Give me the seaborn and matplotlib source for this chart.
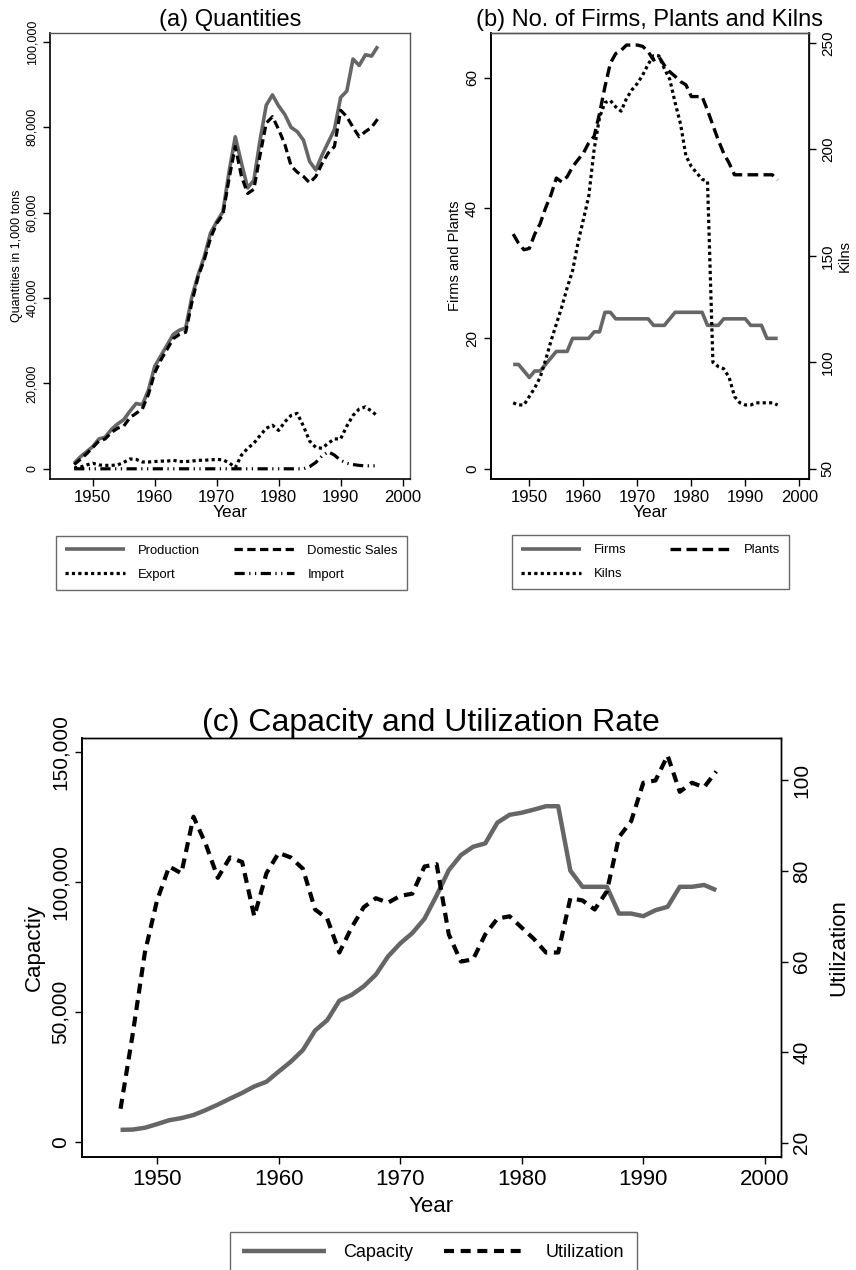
import matplotlib
matplotlib.use("Agg")
import matplotlib.pyplot as plt
from matplotlib.ticker import FuncFormatter
import seaborn as sns

# ---- data ----
years = list(range(1947, 1997))

production = [1300, 2800, 4000, 5200, 7000, 7400, 9200, 10500, 11500, 13500,
              15300, 15000, 18500, 24000, 26500, 29000, 31500, 32500, 33000, 40300,
              45400, 49700, 55200, 57900, 60200, 69600, 77800, 71600, 65800, 67600,
              77000, 85200, 87600, 85000, 83000, 80000, 79000, 77000, 72000, 70000,
              73500, 76500, 79500, 87000, 88500, 96000, 94500, 97000, 96700, 99000]
domestic = [1000, 2200, 3500, 5000, 6500, 7000, 8500, 9500, 10000, 12000,
            13000, 14000, 17500, 22500, 25500, 28000, 30500, 31500, 32000, 39000,
            45000, 49000, 54000, 57500, 59500, 68000, 75500, 68500, 64500, 65500,
            73500, 81000, 82500, 79500, 76000, 71000, 69500, 68500, 67000, 68500,
            71500, 74000, 75500, 84000, 82500, 80000, 77800, 79000, 80000, 82000]
export = [200, 400, 900, 1300, 900, 800, 800, 900, 1500, 2300,
          2200, 1600, 1600, 1700, 1800, 1800, 2000, 1700, 1700, 1800,
          2000, 2000, 2100, 2200, 2100, 1400, 300, 3200, 4800, 6000,
          7800, 9500, 10200, 9000, 11000, 12500, 13000, 10000, 6500, 5000,
          4800, 6000, 7000, 7000, 10000, 12500, 14000, 14500, 13500, 12300]
imports = [0, 0, 0, 0, 0, 0, 0, 0, 0, 0,
           0, 0, 0, 0, 0, 0, 0, 0, 0, 0,
           0, 0, 0, 0, 0, 0, 0, 0, 0, 0,
           0, 0, 0, 0, 0, 0, 0, 0, 500, 1500,
           3000, 4000, 3200, 2000, 1300, 1000, 800, 700, 700, 700]

firms = [16, 16, 15, 14, 15, 15, 16, 17, 18, 18,
         18, 20, 20, 20, 20, 21, 21, 24, 24, 23,
         23, 23, 23, 23, 23, 23, 22, 22, 22, 23,
         24, 24, 24, 24, 24, 24, 22, 22, 22, 23,
         23, 23, 23, 23, 22, 22, 22, 20, 20, 20]
plants = [36, 34.6, 33.6, 33.8, 36, 37.6, 40, 42, 44.6, 44,
          44.8, 46.3, 47.4, 48.4, 50, 51, 54.5, 58.6, 62.2, 63.7,
          64.2, 65, 65, 65, 64.8, 64, 62.7, 63.2, 61.9, 60.9,
          60.2, 59.4, 58.9, 57.1, 57.1, 57.1, 55, 52.7, 50.4, 48.4,
          46.9, 45.1, 45.1, 45.1, 45.1, 45.1, 45.1, 45.1, 45.1, 44.3]
kilns = [81, 80, 80, 84, 88, 93, 101, 110, 118, 126,
         135, 143, 156, 167, 178, 200, 215, 222, 223, 220,
         218, 224, 228, 231, 235, 240, 244, 244, 238, 233,
         222, 212, 197, 192, 189, 186, 185, 100, 98, 97,
         93, 84, 81, 80, 80, 81, 81, 81, 81, 80]

capacity = [4800, 4900, 5600, 7000, 8500, 9300, 10500, 12400, 14500, 16800,
            19000, 21500, 23300, 27200, 31000, 35500, 43000, 47000, 54500, 56700,
            60000, 64500, 71500, 76500, 80500, 86000, 95000, 104700, 110500, 113700,
            115000, 123000, 126000, 126800, 128000, 129300, 129300, 104500, 98300, 98300,
            98300, 88000, 88000, 87000, 89300, 90600, 98300, 98300, 99000, 97000]
utilization = [27.5, 44, 62, 73.5, 81, 79.5, 92, 86, 78.5, 83,
               82, 70, 79.5, 84, 83, 80.5, 71.5, 69.5, 62, 67.5,
               72, 74, 73, 74.5, 75, 81, 81.5, 66, 60, 60.5,
               66, 69.5, 70, 67.5, 65, 62, 62, 74, 73.5, 71.5,
               75.5, 87.5, 91, 99.5, 100, 105.5, 97.5, 99.5, 98.5, 102]

sns.set_style("ticks")
plt.rcParams["font.family"] = ["Liberation Sans", "DejaVu Sans"]
plt.rcParams["text.color"] = "black"
plt.rcParams["axes.labelcolor"] = "black"

GRAY = "#666666"
SOLID = "-"
DASH = (0, (2.6, 1.4))
LONGDASH = (0, (3.2, 1.6))
DOT = (0, (1.0, 1.0))
DASHDOT = (0, (3.2, 1.4, 0.4, 1.4, 0.4, 1.4))

thousands = FuncFormatter(lambda v, p: f"{v:,.0f}")


def draw(ax, values, color, lw, ls):
    sns.lineplot(x=years, y=values, ax=ax, color=color, linewidth=lw,
                 linestyle=ls, estimator=None, legend=False)
    line = ax.get_lines()[-1]
    line.set_solid_capstyle("butt")
    line.set_dash_capstyle("butt")
    return line


def frame(ax, tick_size, right_gray=True):
    for s in ["left", "bottom"]:
        ax.spines[s].set_color("black")
        ax.spines[s].set_linewidth(1.2)
    for s in ["top", "right"]:
        ax.spines[s].set_visible(True)
        ax.spines[s].set_color("#555555" if right_gray else "black")
        ax.spines[s].set_linewidth(1.0)
    ax.tick_params(direction="out", length=5, width=1, colors="black",
                   labelsize=tick_size)
    for lab in ax.get_yticklabels():
        lab.set_rotation(90)
        lab.set_va("center")


def legend_box(ax, handles, labels, bbox, size, ncol=2):
    # handles are given in row order; matplotlib fills columns first
    rows = (len(handles) + ncol - 1) // ncol
    order = [r * ncol + c for c in range(ncol) for r in range(rows)
             if r * ncol + c < len(handles)]
    leg = ax.legend([handles[i] for i in order], [labels[i] for i in order],
                    loc="upper left", bbox_to_anchor=bbox, borderaxespad=0,
                    mode="expand", ncol=ncol, fontsize=size, frameon=True,
                    fancybox=False, edgecolor="#444444", handlelength=4.6,
                    handletextpad=1.0, labelspacing=0.9, borderpad=0.7,
                    columnspacing=2.0)
    leg.get_frame().set_linewidth(1.0)
    return leg


fig = plt.figure(figsize=(8.56, 12.7), dpi=100)

# ---- (a) Quantities ----
ax_a = fig.add_axes([0.0584, 0.6228, 0.4206, 0.3512])
h1 = draw(ax_a, production, GRAY, 2.6, SOLID)
h2 = draw(ax_a, domestic, "black", 2.3, DASH)
h3 = draw(ax_a, export, "black", 2.3, DOT)
h4 = draw(ax_a, imports, "black", 2.3, DASHDOT)
ax_a.set_xlim(1943.1, 2001.2)
ax_a.set_ylim(-2400, 102100)
ax_a.set_xticks([1950, 1960, 1970, 1980, 1990, 2000])
ax_a.set_yticks([0, 20000, 40000, 60000, 80000, 100000])
ax_a.yaxis.set_major_formatter(thousands)
frame(ax_a, 9)
ax_a.tick_params(axis="x", labelsize=12, pad=3)
ax_a.set_title("(a) Quantities", fontsize=17, pad=5)
ax_a.set_xlabel("Year", fontsize=12.5, labelpad=0)
ax_a.set_ylabel("Quantities in 1,000 tons", fontsize=9, labelpad=2)
legend_box(ax_a, [h1, h2, h3, h4],
           ["Production", "Domestic Sales", "Export", "Import"],
           (0.0167, -0.254, 0.975, 0.127), 9.4)

# ---- (b) No. of Firms, Plants and Kilns ----
ax_b = fig.add_axes([0.5733, 0.6228, 0.3718, 0.3512])
g1 = draw(ax_b, firms, GRAY, 2.6, SOLID)
g2 = draw(ax_b, plants, "black", 2.4, LONGDASH)
ax_b2 = ax_b.twinx()
g3 = draw(ax_b2, kilns, "black", 2.3, DOT)
ax_b.set_xlim(1942.85, 2001.8)
ax_b.set_ylim(-1.58, 66.85)
ax_b2.set_ylim(45.2, 254.7)
ax_b.set_xticks([1950, 1960, 1970, 1980, 1990, 2000])
ax_b.set_yticks([0, 20, 40, 60])
ax_b2.set_yticks([50, 100, 150, 200, 250])
frame(ax_b, 11)
frame(ax_b2, 11)
ax_b2.spines["right"].set_color("black")
ax_b2.spines["right"].set_linewidth(1.2)
ax_b.tick_params(axis="x", labelsize=12, pad=3)
ax_b.set_title("(b) No. of Firms, Plants and Kilns", fontsize=17, pad=5)
ax_b.set_xlabel("Year", fontsize=12.5, labelpad=0)
ax_b.set_ylabel("Firms and Plants", fontsize=10.5, labelpad=2)
ax_b2.set_ylabel("Kilns", fontsize=10.5, labelpad=2)
legend_box(ax_b, [g1, g2, g3], ["Firms", "Plants", "Kilns"],
           (0.066, -0.2525, 0.871, 0.127), 9.4)

# ---- (c) Capacity and Utilization Rate ----
ax_c = fig.add_axes([0.0954, 0.0892, 0.8166, 0.3294])
c1 = draw(ax_c, capacity, GRAY, 3.2, SOLID)
ax_c2 = ax_c.twinx()
c2 = draw(ax_c2, utilization, "black", 3.0, (0, (2.4, 1.6)))
ax_c.set_xlim(1943.8, 2001.3)
ax_c.set_ylim(-5540, 155400)
ax_c2.set_ylim(16.9, 109.3)
ax_c.set_xticks([1950, 1960, 1970, 1980, 1990, 2000])
ax_c.set_yticks([0, 50000, 100000, 150000])
ax_c.yaxis.set_major_formatter(thousands)
ax_c2.set_yticks([20, 40, 60, 80, 100])
frame(ax_c, 15, right_gray=False)
frame(ax_c2, 15, right_gray=False)
ax_c.tick_params(axis="x", labelsize=16, pad=4)
ax_c.set_title("(c) Capacity and Utilization Rate", fontsize=23, pad=5)
ax_c.set_xlabel("Year", fontsize=16, labelpad=4)
ax_c.set_ylabel("Capactiy", fontsize=16, labelpad=4)
ax_c2.set_ylabel("Utilization", fontsize=16, labelpad=12)
legend_box(ax_c, [c1, c2], ["Capacity", "Utilization"],
           (0.212, -0.268, 0.582, 0.089), 13)

fig.savefig("out.png", dpi=100)
